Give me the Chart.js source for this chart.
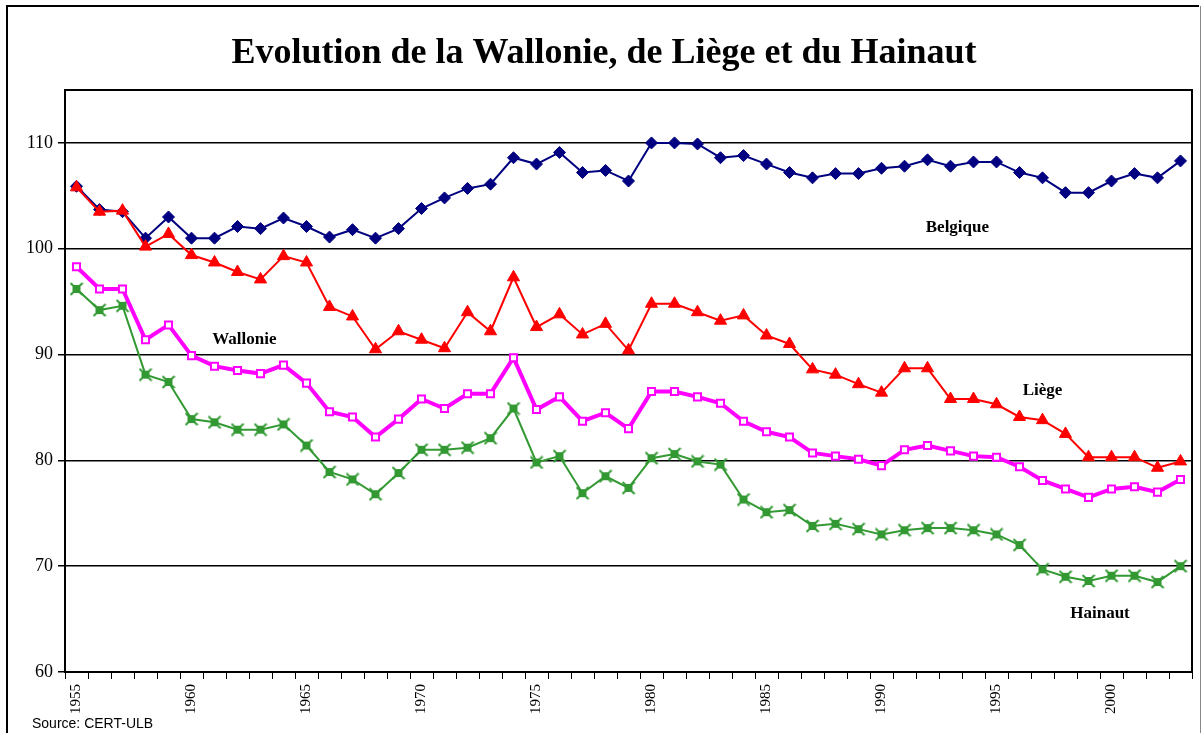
<!DOCTYPE html>
<html>
<head>
<meta charset="utf-8">
<script src="https://cdn.jsdelivr.net/npm/chart.js@4/dist/chart.umd.min.js"></script>
<style>
  body { margin: 0; background: #fff; }
  #wrap { width: 1201px; height: 733px; }
</style>
</head>
<body>
<div id="wrap"><canvas id="chart" width="1201" height="733"></canvas></div>
<script>
const years = [];
for (let y = 1955; y <= 2003; y++) years.push(String(y));

const belgique = [105.9, 103.7, 103.5, 101.0, 103.0, 101.0, 101.0, 102.1, 101.9, 102.9,
    102.1, 101.1, 101.8, 101.0, 101.9, 103.8, 104.8, 105.7, 106.1, 108.6,
    108.0, 109.1, 107.2, 107.4, 106.4, 110.0, 110.0, 109.9, 108.6, 108.8,
    108.0, 107.2, 106.7, 107.1, 107.1, 107.6, 107.8, 108.4, 107.8, 108.2,
    108.2, 107.2, 106.7, 105.3, 105.3, 106.4, 107.1, 106.7, 108.3];

const liege = [105.8, 103.5, 103.6, 100.2, 101.4, 99.4, 98.7, 97.8, 97.1, 99.3,
    98.7, 94.5, 93.6, 90.5, 92.2, 91.4, 90.6, 94.0, 92.2, 97.3,
    92.6, 93.8, 91.9, 92.9, 90.4, 94.8, 94.8, 94.0, 93.2, 93.7,
    91.8, 91.0, 88.6, 88.1, 87.2, 86.4, 88.7, 88.7, 85.8, 85.8,
    85.3, 84.1, 83.8, 82.5, 80.3, 80.3, 80.3, 79.3, 79.9];

const wallonie = [98.3, 96.2, 96.2, 91.4, 92.8, 89.9, 88.9, 88.5, 88.2, 89.0,
    87.3, 84.6, 84.1, 82.2, 83.9, 85.8, 84.9, 86.3, 86.3, 89.7,
    84.8, 86.0, 83.7, 84.5, 83.0, 86.5, 86.5, 86.0, 85.4, 83.7,
    82.7, 82.2, 80.7, 80.4, 80.1, 79.5, 81.0, 81.4, 80.9, 80.4,
    80.3, 79.4, 78.1, 77.3, 76.5, 77.3, 77.5, 77.0, 78.2];

const hainaut = [96.2, 94.2, 94.6, 88.1, 87.4, 83.9, 83.6, 82.9, 82.9, 83.4,
    81.4, 78.9, 78.2, 76.8, 78.8, 81.0, 81.0, 81.2, 82.1, 84.9,
    79.8, 80.4, 76.9, 78.5, 77.4, 80.2, 80.6, 79.9, 79.6, 76.3,
    75.1, 75.3, 73.8, 74.0, 73.5, 73.0, 73.4, 73.6, 73.6, 73.4,
    73.0, 72.0, 69.7, 69.0, 68.6, 69.1, 69.1, 68.5, 70.0];

const yTicks = [60, 70, 80, 90, 100, 110];

const serif = '"Liberation Serif", "Times New Roman", serif';

// marker for Hainaut: filled square with an X through it
function hainautMarker() {
    const c = document.createElement("canvas");
    c.width = 14; c.height = 14;
    const g = c.getContext("2d");
    g.fillStyle = "#339933";
    g.fillRect(3, 3, 8, 8);
    g.strokeStyle = "#339933";
    g.lineWidth = 2;
    g.beginPath();
    g.moveTo(1, 1); g.lineTo(13, 13);
    g.moveTo(13, 1); g.lineTo(1, 13);
    g.stroke();
    return c;
}

const decor = {
    id: "decor",
    afterDraw(chart) {
        const ctx = chart.ctx;
        const a = chart.chartArea;
        const x = chart.scales.x, y = chart.scales.y;
        ctx.save();
        // outer frame
        ctx.strokeStyle = "#000";
        ctx.lineWidth = 2;
        ctx.beginPath();
        ctx.moveTo(7, 740); ctx.lineTo(7, 6); ctx.lineTo(1199, 6);
        ctx.stroke();
        ctx.strokeStyle = "#888";
        ctx.lineWidth = 1;
        ctx.beginPath();
        ctx.moveTo(1200.5, 6); ctx.lineTo(1200.5, 740);
        ctx.stroke();
        // plot box top and right
        ctx.strokeStyle = "#000";
        ctx.lineWidth = 2;
        ctx.beginPath();
        ctx.moveTo(a.left, a.top); ctx.lineTo(a.right, a.top); ctx.lineTo(a.right, a.bottom);
        ctx.stroke();
        // title
        ctx.fillStyle = "#000";
        ctx.font = "bold 36px " + serif;
        ctx.textAlign = "center";
        ctx.textBaseline = "alphabetic";
        ctx.fillText("Evolution de la Wallonie, de Liège et du Hainaut", 604, 63);
        // series names
        ctx.font = "bold 17px " + serif;
        const names = [
            ["Belgique", 38.3, 102.0],
            ["Wallonie", 7.3, 91.4],
            ["Liège", 42.0, 86.6],
            ["Hainaut", 44.5, 65.5]
        ];
        ctx.textBaseline = "middle";
        names.forEach(n => {
            ctx.fillText(n[0], x.getPixelForValue(n[1]), y.getPixelForValue(n[2]));
        });
        // source
        ctx.font = '14px "Liberation Sans", Arial, sans-serif';
        ctx.textAlign = "left";
        ctx.textBaseline = "alphabetic";
        ctx.fillText("Source: CERT-ULB", 32, 728);
        ctx.restore();
    }
};

new Chart(document.getElementById("chart"), {
    type: "line",
    data: {
        labels: years,
        datasets: [
            {
                label: "Belgique",
                data: belgique,
                borderColor: "#000080",
                backgroundColor: "#000080",
                borderWidth: 2,
                pointStyle: "rectRot",
                pointRadius: 6,
                pointBorderWidth: 1,
                order: 4
            },
            {
                label: "Liège",
                data: liege,
                borderColor: "#FF0000",
                backgroundColor: "#FF0000",
                borderWidth: 2,
                pointStyle: "triangle",
                pointRadius: 7,
                pointBorderWidth: 1,
                order: 3
            },
            {
                label: "Hainaut",
                data: hainaut,
                borderColor: "#339933",
                backgroundColor: "#339933",
                borderWidth: 2,
                pointStyle: hainautMarker(),
                order: 2
            },
            {
                label: "Wallonie",
                data: wallonie,
                borderColor: "#FF00FF",
                backgroundColor: "#FFFFFF",
                borderWidth: 4,
                pointStyle: "rect",
                pointRadius: 5,
                pointBorderWidth: 2,
                pointBorderColor: "#FF00FF",
                order: 1
            }
        ]
    },
    options: {
        responsive: false,
        animation: false,
        layout: { padding: { top: 90, right: 9, left: 0, bottom: 0 } },
        plugins: {
            legend: { display: false },
            title: { display: false },
            tooltip: { enabled: false }
        },
        scales: {
            x: {
                offset: true,
                afterFit: s => { s.height = 61; s.paddingLeft = 0; s.paddingRight = 0; },
                border: { color: "#000", width: 2 },
                grid: {
                    drawOnChartArea: false,
                    drawTicks: true,
                    tickLength: 7,
                    color: "#000",
                    offset: true
                },
                ticks: {
                    autoSkip: false,
                    maxRotation: 90,
                    minRotation: 90,
                    padding: 5,
                    color: "#000",
                    font: { family: serif, size: 15 },
                    callback: function (v, i) {
                        const yr = Number(years[i]);
                        return yr % 5 === 0 ? years[i] : "";
                    }
                }
            },
            y: {
                min: 60,
                max: 115,
                afterFit: s => { s.width = 65; s.paddingTop = 0; s.paddingBottom = 0; },
                afterBuildTicks: s => { s.ticks = yTicks.map(v => ({ value: v })); },
                border: { color: "#000", width: 2 },
                grid: {
                    color: ctx => (ctx.tick && ctx.tick.value === 60) ? "rgba(0,0,0,0)" : "#000",
                    tickColor: "#000",
                    tickLength: 7,
                    lineWidth: 1.5
                },
                ticks: {
                    padding: 5,
                    color: "#000",
                    font: { family: serif, size: 18 }
                }
            }
        }
    },
    plugins: [decor]
});
</script>
</body>
</html>
